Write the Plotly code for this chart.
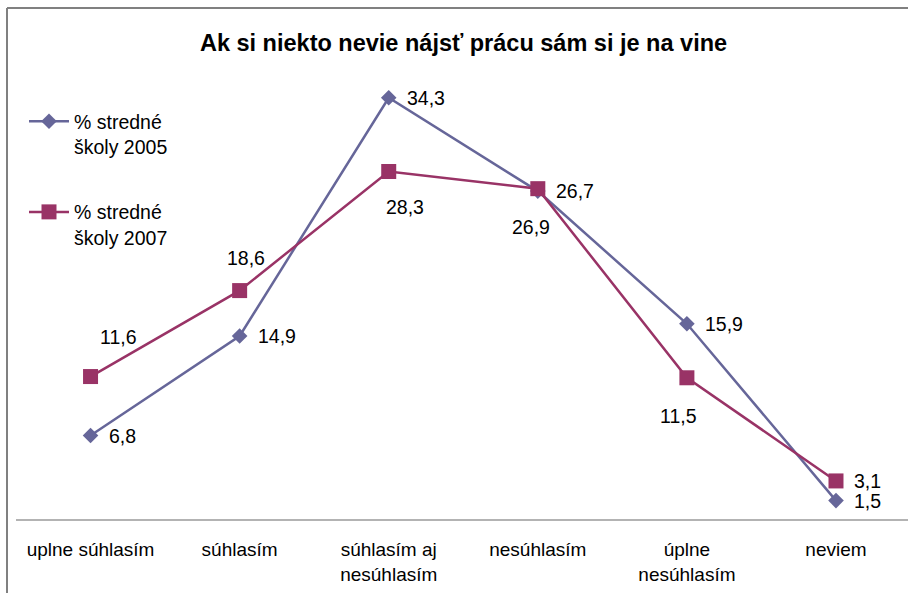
import plotly.graph_objects as go

# ---- data ----
categories = ["uplne súhlasím", "súhlasím", "súhlasím aj<br>nesúhlasím",
              "nesúhlasím", "úplne<br>nesúhlasím", "neviem"]
series_names = ["% stredné<br>školy 2005", "% stredné<br>školy 2007"]
values_2005 = [6.8, 14.9, 34.3, 26.7, 15.9, 1.5]
values_2007 = [11.6, 18.6, 28.3, 26.9, 11.5, 3.1]
title_text = "Ak si niekto nevie nájsť prácu sám si je na vine"

# ---- styling ----
FONT = "Liberation Sans, Arial, sans-serif"
C2005 = "#666699"
C2007 = "#993366"
W, H = 908, 593
ML, MB = 16, 74
PW, PH = W - ML, H - MB

x_idx = list(range(len(categories)))

def fmt(v):
    return f"{v:.1f}".replace(".", ",")

fig = go.Figure()
fig.add_trace(go.Scatter(
    x=x_idx, y=values_2005, mode="lines+markers", name=series_names[0],
    legendgroup="a",
    line=dict(color=C2005, width=2.5),
    marker=dict(symbol="diamond", size=12, color=C2005),
))
fig.add_trace(go.Scatter(
    x=x_idx, y=values_2007, mode="lines+markers", name=series_names[1],
    legendgroup="b",
    line=dict(color=C2007, width=2.5),
    marker=dict(symbol="square", size=15, color=C2007),
))

# data labels (offsets in pixels are styling only)
off_2005 = [(16, 0, "left")] * 6
off_2007 = [(28, 40, "center"), (6, 33, "center"), (16, -36, "center"),
            (-7, -38, "center"), (-8, -38, "center"), (16, 0, "left")]
annotations = []
for vals, offs in ((values_2005, off_2005), (values_2007, off_2007)):
    for i, v in enumerate(vals):
        dx, dy, anc = offs[i]
        annotations.append(dict(
            x=x_idx[i], y=v, xref="x", yref="y", text=fmt(v), showarrow=False,
            xanchor=anc, yanchor="middle", xshift=dx, yshift=dy,
            font=dict(family=FONT, size=19.5, color="black"),
        ))

fig.update_layout(
    width=W, height=H,
    margin=dict(l=ML, r=0, t=0, b=MB, autoexpand=False),
    paper_bgcolor="white", plot_bgcolor="white",
    title=dict(text="<b>" + title_text + "</b>", x=463.5 / W, xref="container",
               xanchor="center", y=1 - 43 / H, yref="container", yanchor="middle",
               font=dict(family=FONT, size=23.5, color="black")),
    xaxis=dict(range=[-0.5, 5.483], tickmode="array", tickvals=x_idx,
               ticktext=categories, showgrid=False, zeroline=False,
               showline=True, linecolor="#b3b3b3", linewidth=2,
               ticks="", ticklabelstandoff=12, automargin=False,
               tickfont=dict(family=FONT, size=19, color="black")),
    yaxis=dict(range=[0, PH / 12.28], visible=False, showgrid=False),
    legend=dict(x=(24 - ML) / PW, y=(PH - 102) / PH, xref="paper", yref="paper",
                xanchor="left", yanchor="top", traceorder="grouped",
                tracegroupgap=37, valign="top", itemwidth=40,
                font=dict(family=FONT, size=19.5, color="black"),
                bgcolor="rgba(0,0,0,0)"),
    annotations=annotations,
    showlegend=True,
)

# outer chart frame (top and left edges visible)
fx0 = (7 - ML) / PW
fy_top = (PH - 8) / PH
fy_bot = -(MB + 5) / PH
fig.add_shape(type="line", xref="paper", yref="paper", x0=fx0, x1=1.05,
              y0=fy_top, y1=fy_top, line=dict(color="#808080", width=2))
fig.add_shape(type="line", xref="paper", yref="paper", x0=fx0, x1=fx0,
              y0=fy_bot, y1=fy_top, line=dict(color="#808080", width=2))

fig.write_html("out.html",
               config={"displayModeBar": False},
               post_script="document.body.style.margin='0px';"
                           "document.body.style.overflow='hidden';")
